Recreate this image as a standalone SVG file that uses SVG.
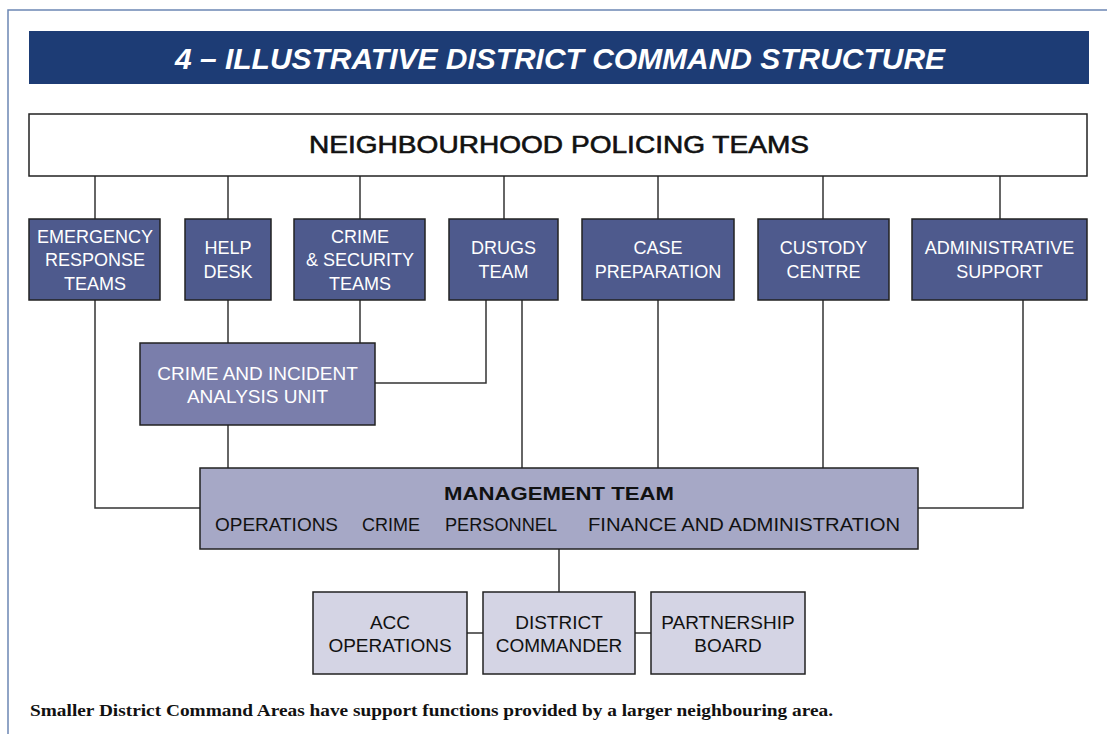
<svg xmlns="http://www.w3.org/2000/svg" width="1107" height="734" viewBox="0 0 1107 734">
<style>
.frame{fill:none;stroke:#6c87b4;stroke-width:1.5}
.dark{fill:#4e5a8d;stroke:#222;stroke-width:1.5}
.mid{fill:#7a7eab;stroke:#222;stroke-width:1.5}
.mgmt{fill:#a6a8c6;stroke:#222;stroke-width:1.5}
.light{fill:#d4d4e4;stroke:#222;stroke-width:1.5}
.wt{font-family:"Liberation Sans",Arial,sans-serif;font-size:18px;fill:#fff;text-anchor:middle}
.wt19{font-family:"Liberation Sans",Arial,sans-serif;font-size:19px;fill:#fff;text-anchor:middle}
.bt{font-family:"Liberation Sans",Arial,sans-serif;font-size:19px;fill:#111;text-anchor:middle}
.bs{font-family:"Liberation Sans",Arial,sans-serif;font-size:19px;fill:#111;text-anchor:start}
.conn line,.conn polyline{stroke:#333;stroke-width:1.5;fill:none}
</style>
<rect width="1107" height="734" fill="#fff"/>
<path class="frame" d="M8,734 V10 H1107"/>
<g id="title">
<rect x="29" y="31" width="1060" height="53" fill="#1d3c75"/>
<text x="560" y="69" font-family="Liberation Sans,Arial,sans-serif" font-size="30" font-weight="bold" font-style="italic" fill="#fff" text-anchor="middle" textLength="770" lengthAdjust="spacingAndGlyphs">4 – ILLUSTRATIVE DISTRICT COMMAND STRUCTURE</text>
</g>
<g class="conn" id="connectors">
<line x1="95" y1="176" x2="95" y2="219"/>
<line x1="228" y1="176" x2="228" y2="219"/>
<line x1="360" y1="176" x2="360" y2="219"/>
<line x1="504" y1="176" x2="504" y2="219"/>
<line x1="658" y1="176" x2="658" y2="219"/>
<line x1="823" y1="176" x2="823" y2="219"/>
<line x1="1000" y1="176" x2="1000" y2="219"/>
<polyline points="95,300 95,508 200,508"/>
<line x1="228" y1="300" x2="228" y2="343"/>
<line x1="360" y1="300" x2="360" y2="343"/>
<polyline points="486,300 486,383 375,383"/>
<line x1="522" y1="300" x2="522" y2="468"/>
<line x1="228" y1="425" x2="228" y2="468"/>
<line x1="658" y1="300" x2="658" y2="468"/>
<line x1="823" y1="300" x2="823" y2="468"/>
<polyline points="1023,300 1023,508 918,508"/>
<line x1="559" y1="549" x2="559" y2="592"/>
<line x1="467" y1="633" x2="483" y2="633"/>
<line x1="635" y1="633" x2="651" y2="633"/>
</g>
<g id="npt">
<rect x="29" y="114" width="1058" height="62" fill="#fff" stroke="#222" stroke-width="1.5"/>
<text x="559" y="153" font-family="Liberation Sans,Arial,sans-serif" font-size="24" fill="#111" stroke="#111" stroke-width="0.6" text-anchor="middle" textLength="500" lengthAdjust="spacingAndGlyphs">NEIGHBOURHOOD POLICING TEAMS</text>
</g>
<g id="emergency">
<rect class="dark" x="29" y="219" width="131" height="81"/>
<text class="wt" x="95" y="243">EMERGENCY</text>
<text class="wt" x="95" y="266">RESPONSE</text>
<text class="wt" x="95" y="290">TEAMS</text>
</g>
<g id="helpdesk">
<rect class="dark" x="185" y="219" width="86" height="81"/>
<text class="wt" x="228" y="254">HELP</text>
<text class="wt" x="228" y="278">DESK</text>
</g>
<g id="crimesec">
<rect class="dark" x="294" y="219" width="131" height="81"/>
<text class="wt" x="360" y="243">CRIME</text>
<text class="wt" x="360" y="266">&amp; SECURITY</text>
<text class="wt" x="360" y="290">TEAMS</text>
</g>
<g id="drugs">
<rect class="dark" x="449" y="219" width="109" height="81"/>
<text class="wt" x="503.5" y="254">DRUGS</text>
<text class="wt" x="503.5" y="278">TEAM</text>
</g>
<g id="caseprep">
<rect class="dark" x="582" y="219" width="152" height="81"/>
<text class="wt" x="658" y="254">CASE</text>
<text class="wt" x="658" y="278">PREPARATION</text>
</g>
<g id="custody">
<rect class="dark" x="758" y="219" width="131" height="81"/>
<text class="wt" x="823.5" y="254">CUSTODY</text>
<text class="wt" x="823.5" y="278">CENTRE</text>
</g>
<g id="admin">
<rect class="dark" x="912" y="219" width="175" height="81"/>
<text class="wt" x="999.5" y="254">ADMINISTRATIVE</text>
<text class="wt" x="999.5" y="278">SUPPORT</text>
</g>
<g id="ciau">
<rect class="mid" x="140" y="343" width="235" height="82"/>
<text class="wt19" x="257.5" y="380">CRIME AND INCIDENT</text>
<text class="wt19" x="257.5" y="403">ANALYSIS UNIT</text>
</g>
<g id="management">
<rect class="mgmt" x="200" y="468" width="718" height="81"/>
<text class="bt" x="559" y="500" font-weight="bold" textLength="230" lengthAdjust="spacingAndGlyphs">MANAGEMENT TEAM</text>
<text class="bs" x="215" y="531" textLength="123" lengthAdjust="spacingAndGlyphs">OPERATIONS</text>
<text class="bs" x="362" y="531" textLength="58" lengthAdjust="spacingAndGlyphs">CRIME</text>
<text class="bs" x="445" y="531" textLength="112" lengthAdjust="spacingAndGlyphs">PERSONNEL</text>
<text class="bs" x="588" y="531" textLength="312" lengthAdjust="spacingAndGlyphs">FINANCE AND ADMINISTRATION</text>
</g>
<g id="acc">
<rect class="light" x="313" y="592" width="154" height="82"/>
<text class="bt" x="390" y="629">ACC</text>
<text class="bt" x="390" y="652">OPERATIONS</text>
</g>
<g id="district">
<rect class="light" x="483" y="592" width="152" height="82"/>
<text class="bt" x="559" y="629">DISTRICT</text>
<text class="bt" x="559" y="652">COMMANDER</text>
</g>
<g id="partnership">
<rect class="light" x="651" y="592" width="154" height="82"/>
<text class="bt" x="728" y="629">PARTNERSHIP</text>
<text class="bt" x="728" y="652">BOARD</text>
</g>
<text x="30" y="716" font-family="Liberation Serif,Times New Roman,serif" font-size="17" font-weight="bold" fill="#111" textLength="803" lengthAdjust="spacingAndGlyphs">Smaller District Command Areas have support functions provided by a larger neighbouring area.</text>
</svg>
